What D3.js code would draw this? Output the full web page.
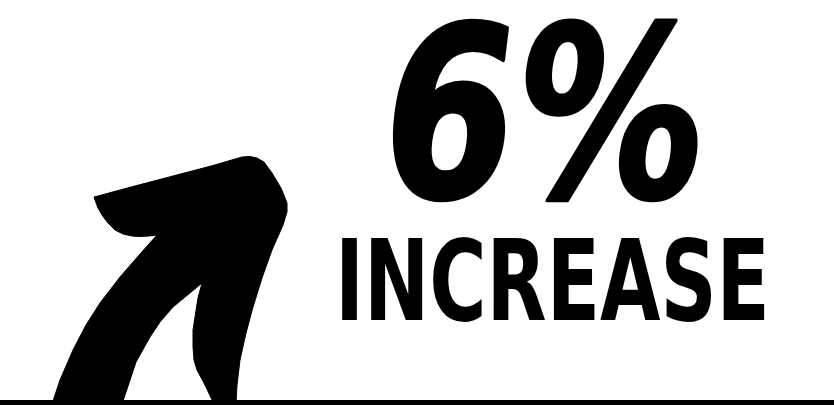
<!DOCTYPE html>
<html>
<head>
<meta charset="utf-8">
<script src="https://cdn.jsdelivr.net/npm/d3@7"></script>
<style>
  html, body { margin: 0; padding: 0; background: #fff; }
  svg { display: block; }
</style>
</head>
<body>
<div class="chart-wrapper"></div>
<script>
// values
const change = [6];
const changeUnit = ['%'];
const captions = ['INCREASE'];

// arrow outline, traced in its own little grid (0..235 across, 0..243 down)
const arrowX = [-1, 7, 20, 33, 47, 67, 87, 104,
    96, 87, 79, 70, 62, 55, 49, 45, 42, 41,
    43, 80, 120, 160, 189, 197, 204, 211, 219, 228, 234, 234, 230, 219, 209, 200, 193, 187, 184, 183,
    161,
    152, 144, 141, 140, 140, 142, 145, 149,
    137, 120, 107, 97, 83, 69];
const arrowY = [247, 223, 193, 168, 146, 120, 97, 78,
    79, 79.5, 79, 77, 73, 66, 58, 51, 43, 40,
    39.5, 29.5, 19, 8.5, 0, -0.5, 1, 5, 16, 31, 46, 55, 68, 93, 121, 150, 176, 203, 228, 247,
    247,
    228, 213, 203, 190, 173, 160, 141, 126,
    136, 150, 165, 180, 205, 247];

const width = 834, height = 405;

const svg = d3.select('.chart-wrapper').append('svg')
    .attr('width', width)
    .attr('height', height)
    .attr('viewBox', '0 0 ' + width + ' ' + height);

// arrow box
const ax = d3.scaleLinear().domain([0, 235]).range([53, 288]);
const ay = d3.scaleLinear().domain([0, 243]).range([157, 400]);

const arrowPts = arrowX.map((x, i) => [x, arrowY[i]]);

svg.append('path')
    .attr('class', 'arrow')
    .attr('d', d3.line()
        .x(d => ax(d[0]))
        .y(d => ay(d[1]))
        .curve(d3.curveLinearClosed)(arrowPts))
    .attr('fill', '#000')
    .attr('stroke', '#000')
    .attr('stroke-width', 1)
    .attr('stroke-linejoin', 'round');

// baseline
svg.append('rect')
    .attr('x', 0)
    .attr('y', 400)
    .attr('width', width)
    .attr('height', height - 400)
    .attr('fill', '#000');

// squeeze a text sideways so it fills a given width
function fitWidth(txt, w) {
    var natural = txt.node().getComputedTextLength();
    return natural > 0 ? w / natural : 1;
}

// big number
var bigG = svg.append('g');
var big = bigG.append('text')
    .attr('x', 0)
    .attr('y', 0)
    .style('font-family', '"DejaVu Sans", sans-serif')
    .style('font-weight', 700)
    .style('font-size', '238px')
    .attr('fill', '#000')
    .attr('stroke', '#000')
    .attr('stroke-width', 4)
    .attr('stroke-linejoin', 'round')
    .text(change[0] + changeUnit[0]);
bigG.attr('transform', 'translate(374,197) skewX(-7) scale(' + fitWidth(big, 322) + ',1)');

// caption
var capG = svg.append('g');
var cap = capG.append('text')
    .attr('x', 0)
    .attr('y', 0)
    .style('font-family', '"DejaVu Sans Condensed", "DejaVu Sans", sans-serif')
    .style('font-weight', 700)
    .style('font-size', '113px')
    .attr('fill', '#000')
    .text(captions[0]);
capG.attr('transform', 'translate(335,320) scale(' + fitWidth(cap, 435) + ',1)');
</script>
</body>
</html>
